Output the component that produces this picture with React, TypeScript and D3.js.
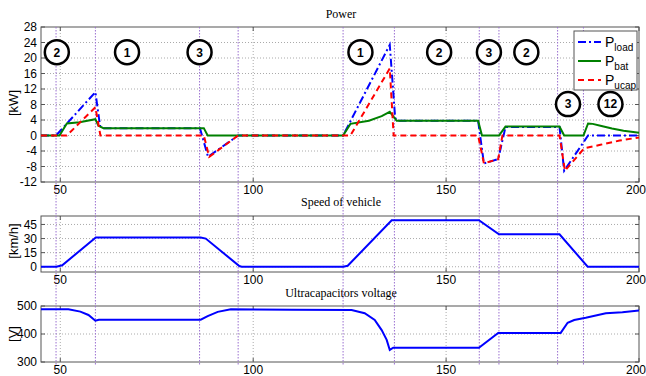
import * as d3 from 'd3'
import React, { useEffect, useRef } from 'react'

// Power panel [kW]
const loadT = [45, 48.9, 59.1, 60.3, 61, 86.2, 88.3, 96.1, 123.3, 135.4, 136.8, 137.5, 158.3, 159.8, 163.5, 165.4, 179.4, 180.6, 186.8, 200]
const loadV = [0, 0, 11.2, 2.5, 1.9, 1.9, -5.5, 0, 0, 23.4, 4.5, 3.8, 3.8, -7.2, -6.1, 2.2, 2.2, -9.1, 0, 0]
const batT = [45, 49.8, 51.7, 55, 59.1, 59.9, 61.2, 87.2, 88.2, 123.3, 125.2, 130, 133.3, 135.4, 137.2, 158.3, 159.3, 163.7, 165.4, 179.4, 180.6, 185.6, 186.8, 188, 190, 193, 196, 200]
const batV = [0, 0, 3.1, 3.4, 4.2, 2.5, 1.9, 1.9, 0, 0, 3.0, 3.8, 5.0, 6.1, 3.8, 3.8, 0, 0, 2.3, 2.3, 0, 0, 3.1, 3.0, 2.5, 1.8, 1.2, 0.7]
const ucapT = [45, 51.7, 59.1, 60.4, 87.2, 88.6, 96.1, 125.2, 135.4, 136.4, 158.3, 159.8, 163.5, 164.6, 179.4, 180.8, 185.8, 190, 195, 200]
const ucapV = [0, 0, 7.3, 0, 0, -5.5, 0, 0, 17.3, 0, 0, -7.2, -6.1, 0, 0, -9.1, -3.3, -2.4, -1.3, -0.5]

// Speed of vehicle [km/h]
const speedT = [45, 49, 50.5, 59.2, 86.4, 87.7, 96.4, 97, 123.3, 124.5, 135.9, 158.5, 163.7, 179.4, 186.7, 200]
const speedV = [0, 0, 1.5, 31.2, 31.2, 30, 0.7, 0, 0, 1, 49.5, 49.5, 34.5, 34.5, 0, 0]

// Ultracapacitors voltage [V]
const voltT = [45, 52.1, 55.2, 57.3, 59.1, 60, 86.4, 88.2, 90.8, 94.2, 110, 125.5, 128.9, 131.5, 133.3, 134.6, 135.4, 136.3, 158.5, 163.5, 179.7, 181.5, 183.2, 186.2, 191.4, 195.7, 200]
const voltV = [488, 488, 480, 468, 447.5, 451, 451, 464, 479, 488, 487, 486, 474, 450, 414, 379, 343, 351, 351, 404, 404, 440, 450, 458, 474, 478, 484]

// phase boundaries and mode labels
const phaseLines = [48.9, 59.1, 86.1, 96.1, 123.3, 136.6, 158.6, 163.7, 178.9, 185.6]
const modeLabels = ['2', '1', '3', '1', '2', '3', '2', '3', '12']
const modeT = [49.1, 67.3, 86.1, 127.8, 148.2, 161.1, 170.8, 181.6, 192.6]
const modeKW = [21.5, 21.5, 21.5, 21.5, 21.5, 21.5, 21.5, 8.1, 8.1]

const xTicks = [50, 100, 150, 200]

const W = 646
const H = 376

const App = () => {
    const ref = useRef<SVGSVGElement>(null)

    useEffect(() => {
        const svg = d3.select(ref.current)
        svg.selectAll('*').remove()

        const x = d3.scaleLinear().domain([45, 200]).range([41, 639])
        const sans = 'Liberation Sans, Arial, sans-serif'
        const serif = 'Liberation Serif, Times New Roman, serif'

        svg.append('rect').attr('width', W).attr('height', H).attr('fill', 'white')

        // set up one panel, returns y scale
        function panel(top: number, bottom: number, domain: number[], ticks: number[], title: string, titleY: number, label: string, labelY: number) {
            const y = d3.scaleLinear().domain(domain).range([bottom, top])
            const g = svg.append('g')
            const [x0, x1] = x.range()

            // grid
            ticks.filter(t => y(t) > top + 1 && y(t) < bottom - 1).forEach(t => {
                g.append('line').attr('x1', x0).attr('x2', x1).attr('y1', y(t)).attr('y2', y(t))
                    .attr('stroke', '#aaa').attr('stroke-dasharray', '1,2')
            })
            xTicks.filter(t => x(t) < x1 - 1).forEach(t => {
                g.append('line').attr('x1', x(t)).attr('x2', x(t)).attr('y1', top).attr('y2', bottom)
                    .attr('stroke', '#aaa').attr('stroke-dasharray', '1,2')
            })

            // frame + inner ticks
            g.append('rect').attr('x', x0).attr('y', top).attr('width', x1 - x0).attr('height', bottom - top)
                .attr('fill', 'none').attr('stroke', '#555')
            ticks.forEach(t => {
                g.append('line').attr('x1', x0).attr('x2', x0 + 4).attr('y1', y(t)).attr('y2', y(t)).attr('stroke', '#555')
                g.append('line').attr('x1', x1 - 4).attr('x2', x1).attr('y1', y(t)).attr('y2', y(t)).attr('stroke', '#555')
                g.append('text').attr('x', 37).attr('y', y(t)).attr('dy', '0.35em').attr('text-anchor', 'end')
                    .style('font-family', sans).style('font-size', '12px').text(t)
            })
            xTicks.forEach(t => {
                g.append('line').attr('x1', x(t)).attr('x2', x(t)).attr('y1', bottom).attr('y2', bottom - 4).attr('stroke', '#555')
                g.append('line').attr('x1', x(t)).attr('x2', x(t)).attr('y1', top).attr('y2', top + 4).attr('stroke', '#555')
                // keep the last label inside the picture
                const lx = Math.min(x(t), W - 10)
                g.append('text').attr('x', lx).attr('y', bottom + 12).attr('text-anchor', 'middle')
                    .style('font-family', sans).style('font-size', '12px').text(t)
            })

            g.append('text').attr('x', 341).attr('y', titleY).attr('text-anchor', 'middle')
                .style('font-family', serif).style('font-size', '12px').text(title)
            g.append('text').attr('transform', `translate(18,${labelY}) rotate(-90)`).attr('text-anchor', 'middle')
                .style('font-family', sans).style('font-size', '13px').text(label)
            return y
        }

        const yP = panel(27, 182, [-12, 28], d3.range(-12, 29, 4), 'Power', 18, '[kW]', 103)
        const yS = panel(216, 272, [-5.6, 54], [0, 15, 30, 45], 'Speed of vehicle', 206, '[km/h]', 241)
        const yV = panel(306, 362, [300, 500], [300, 400, 500], 'Ultracapacitors voltage', 297, '[V]', 334)

        // phase separators
        phaseLines.forEach(t => {
            svg.append('line').attr('x1', x(t)).attr('x2', x(t)).attr('y1', 27).attr('y2', 366)
                .attr('stroke', '#9a6fd0').attr('stroke-dasharray', '1.5,1.5')
        })

        const draw = (ts: number[], vs: number[], y: d3.ScaleLinear<number, number>, color: string, dash: string | null) => {
            const line = d3.line<number>().x((d, i) => x(ts[i])).y(d => y(d))
            svg.append('path').attr('d', line(vs)).attr('fill', 'none').attr('stroke', color)
                .attr('stroke-width', 2).attr('stroke-dasharray', dash)
        }

        draw(loadT, loadV, yP, '#0000ff', '8,3,2,3')
        draw(batT, batV, yP, '#008000', null)
        draw(ucapT, ucapV, yP, '#ff0000', '6,4')
        draw(speedT, speedV, yS, '#0000ff', null)
        draw(voltT, voltV, yV, '#0000ff', null)

        // mode circles
        modeLabels.forEach((m, i) => {
            const cx = x(modeT[i])
            const cy = yP(modeKW[i])
            svg.append('circle').attr('cx', cx).attr('cy', cy).attr('r', 12)
                .attr('fill', 'white').attr('stroke', 'black').attr('stroke-width', 2.5)
            svg.append('text').attr('x', cx).attr('y', cy).attr('dy', '0.36em').attr('text-anchor', 'middle')
                .style('font-family', sans).style('font-size', '12px').style('font-weight', 'bold').text(m)
        })

        // legend
        const lg = svg.append('g').attr('transform', 'translate(574,31)')
        lg.append('rect').attr('width', 63).attr('height', 59).attr('fill', 'white').attr('stroke', '#555')
        const items = [['load', '#0000ff', '8,3,2,3'], ['bat', '#008000', null], ['ucap', '#ff0000', '6,4']]
        items.forEach((it, i) => {
            const ly = 11 + i * 19
            lg.append('line').attr('x1', 4).attr('x2', 27).attr('y1', ly).attr('y2', ly)
                .attr('stroke', it[1] as string).attr('stroke-width', 2).attr('stroke-dasharray', it[2])
            const t = lg.append('text').attr('x', 31).attr('y', ly + 5).style('font-family', sans).style('font-size', '14px')
            t.append('tspan').text('P')
            t.append('tspan').attr('dy', 4).style('font-size', '10px').text(it[0] as string)
        })
    }, [])

    return <svg ref={ref} width={W} height={H} style={{ position: 'absolute', left: 0, top: 0 }} />
}

export default App
